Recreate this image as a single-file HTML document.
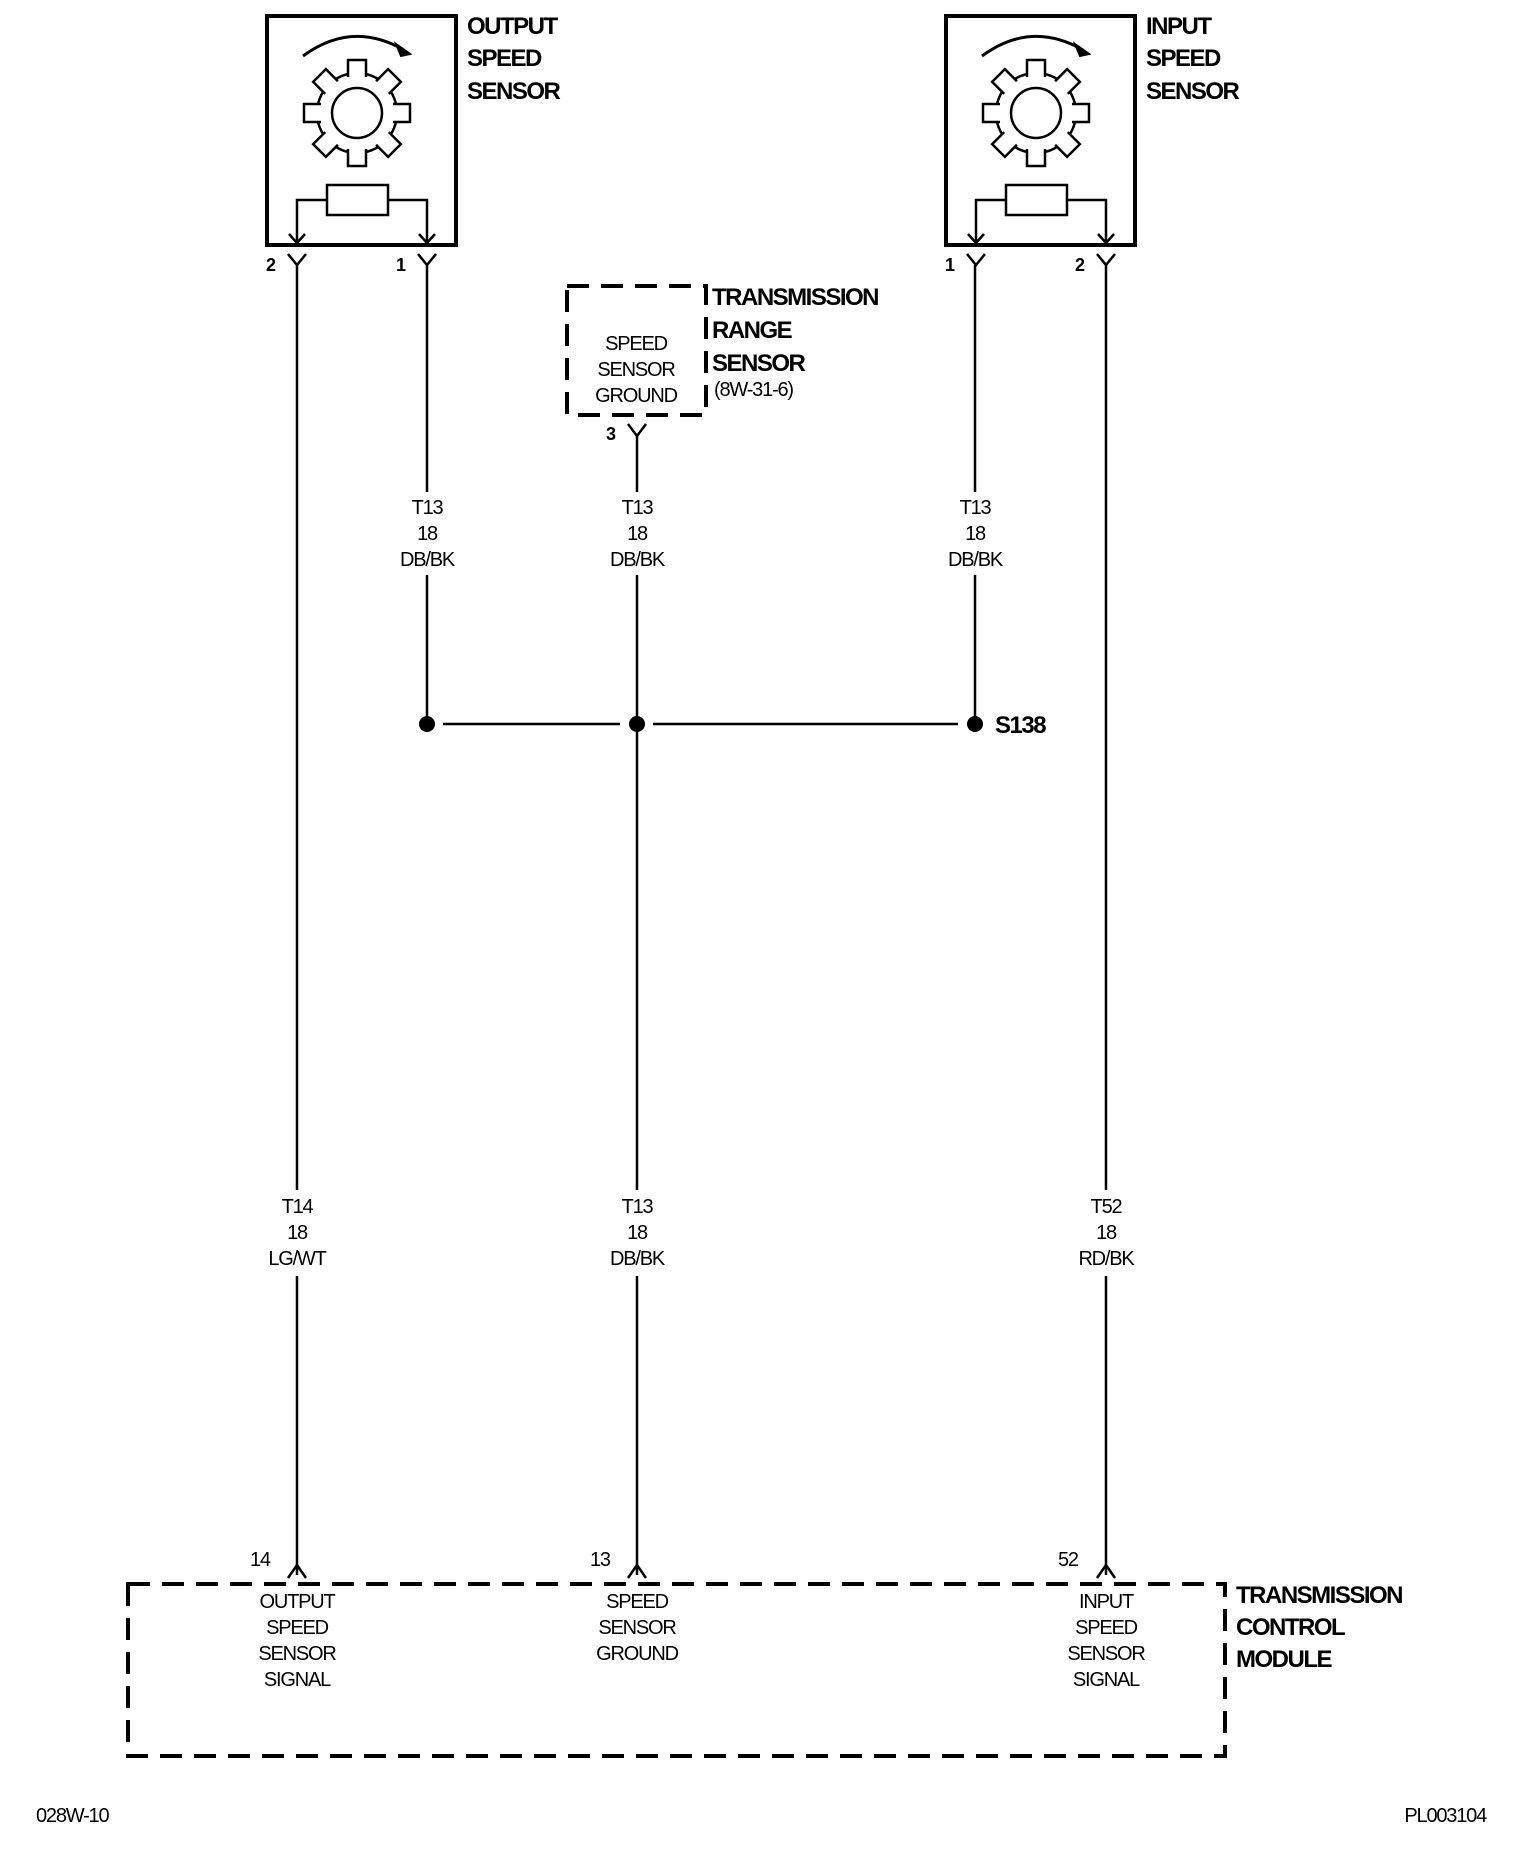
<!DOCTYPE html>
<html><head><meta charset="utf-8"><style>
html,body{margin:0;padding:0;background:#fff;}
svg{display:block;}
text{font-family:"Liberation Sans Narrow","Liberation Sans",sans-serif;fill:#000;}
.b{font-weight:bold;font-size:24px;letter-spacing:-1.5px;}
.s{font-size:20px;letter-spacing:-1.2px;}
</style></head><body>
<svg width="1536" height="1856" viewBox="0 0 1536 1856" xmlns="http://www.w3.org/2000/svg">
<defs>
<g id="sensor">
  <rect x="267" y="16" width="189" height="229" fill="none" stroke="#000" stroke-width="4"/>
  <path d="M303,56 Q352,20 404,50" fill="none" stroke="#000" stroke-width="3"/>
  <path d="M410,54 L396,44 L401,56 Z" fill="#000" stroke="#000" stroke-width="2"/>
  <g transform="translate(357,113)" fill="#fff" stroke="#000" stroke-width="2.5">
    <circle r="40"/>
    <path id="tooth" d="M-9,-36 L-9,-53 L9,-53 L9,-36"/>
    <use href="#tooth" transform="rotate(45)"/>
    <use href="#tooth" transform="rotate(90)"/>
    <use href="#tooth" transform="rotate(135)"/>
    <use href="#tooth" transform="rotate(180)"/>
    <use href="#tooth" transform="rotate(225)"/>
    <use href="#tooth" transform="rotate(270)"/>
    <use href="#tooth" transform="rotate(315)"/>
    <circle r="25"/>
  </g>
  <rect x="327" y="185" width="61" height="30" fill="none" stroke="#000" stroke-width="2.5"/>
  <path d="M327,200 H297 V243 M388,200 H427 V243" fill="none" stroke="#000" stroke-width="2.5"/>
  <path d="M289,234 L297,243 L305,234 M419,234 L427,243 L435,234" fill="none" stroke="#000" stroke-width="2.5"/>
  <path d="M288,254 L297,265 L306,254 M418,254 L427,265 L436,254" fill="none" stroke="#000" stroke-width="2.5"/>
</g>
</defs>
<use href="#sensor"/>
<use href="#sensor" transform="translate(679,0)"/>
<g class="b">
<text x="467" y="34">OUTPUT</text><text x="467" y="66">SPEED</text><text x="467" y="99">SENSOR</text>
<text x="1146" y="34">INPUT</text><text x="1146" y="66">SPEED</text><text x="1146" y="99">SENSOR</text>
<text x="712" y="305">TRANSMISSION</text><text x="712" y="338">RANGE</text><text x="712" y="371">SENSOR</text>
<text x="1236" y="1603">TRANSMISSION</text><text x="1236" y="1635">CONTROL</text><text x="1236" y="1667">MODULE</text>
<text x="995" y="733">S138</text>
</g>
<g class="s" font-weight="bold">
<text x="266" y="271" font-size="18">2</text><text x="396" y="271" font-size="18">1</text>
<text x="945" y="271" font-size="18">1</text><text x="1075" y="271" font-size="18">2</text>
<text x="606" y="440" font-size="18">3</text>
</g>
<text x="714" y="396" class="s" font-size="18">(8W-31-6)</text>
<rect x="567" y="286" width="139" height="129" fill="none" stroke="#000" stroke-width="4" stroke-dasharray="22,12"/>
<g class="s" text-anchor="middle">
<text x="636" y="350">SPEED</text><text x="636" y="376">SENSOR</text><text x="636" y="402">GROUND</text>
</g>
<path d="M628,424 L637,436 L646,424" fill="none" stroke="#000" stroke-width="2.5"/>
<g stroke="#000" stroke-width="2.5" fill="none">
<path d="M297,265 V1190 M297,1276 V1575"/>
<path d="M427,265 V492 M427,575 V724"/>
<path d="M637,436 V492 M637,575 V1190 M637,1276 V1575"/>
<path d="M975,265 V492 M975,575 V724"/>
<path d="M1106,265 V1190 M1106,1276 V1575"/>
<path d="M443,724 H620 M653,724 H958"/>
<path d="M288,1578 L297,1565 L306,1578 M628,1578 L637,1565 L646,1578 M1097,1578 L1106,1565 L1115,1578"/>
</g>
<g fill="#000"><circle cx="427" cy="724" r="8"/><circle cx="637" cy="724" r="8"/><circle cx="975" cy="724" r="8"/></g>
<g class="s" text-anchor="middle">
<text x="427" y="514">T13</text><text x="427" y="540">18</text><text x="427" y="566">DB/BK</text>
<text x="637" y="514">T13</text><text x="637" y="540">18</text><text x="637" y="566">DB/BK</text>
<text x="975" y="514">T13</text><text x="975" y="540">18</text><text x="975" y="566">DB/BK</text>
<text x="297" y="1213">T14</text><text x="297" y="1239">18</text><text x="297" y="1265">LG/WT</text>
<text x="637" y="1213">T13</text><text x="637" y="1239">18</text><text x="637" y="1265">DB/BK</text>
<text x="1106" y="1213">T52</text><text x="1106" y="1239">18</text><text x="1106" y="1265">RD/BK</text>
<text x="297" y="1608">OUTPUT</text><text x="297" y="1634">SPEED</text><text x="297" y="1660">SENSOR</text><text x="297" y="1686">SIGNAL</text>
<text x="637" y="1608">SPEED</text><text x="637" y="1634">SENSOR</text><text x="637" y="1660">GROUND</text>
<text x="1106" y="1608">INPUT</text><text x="1106" y="1634">SPEED</text><text x="1106" y="1660">SENSOR</text><text x="1106" y="1686">SIGNAL</text>
</g>
<g class="s"><text x="250" y="1566">14</text><text x="590" y="1566">13</text><text x="1058" y="1566">52</text></g>
<rect x="128" y="1584" width="1097" height="172" fill="none" stroke="#000" stroke-width="4" stroke-dasharray="22,12"/>
<text x="36" y="1822" class="s">028W-10</text>
<text x="1486" y="1822" class="s" text-anchor="end">PL003104</text>
</svg>
</body></html>
